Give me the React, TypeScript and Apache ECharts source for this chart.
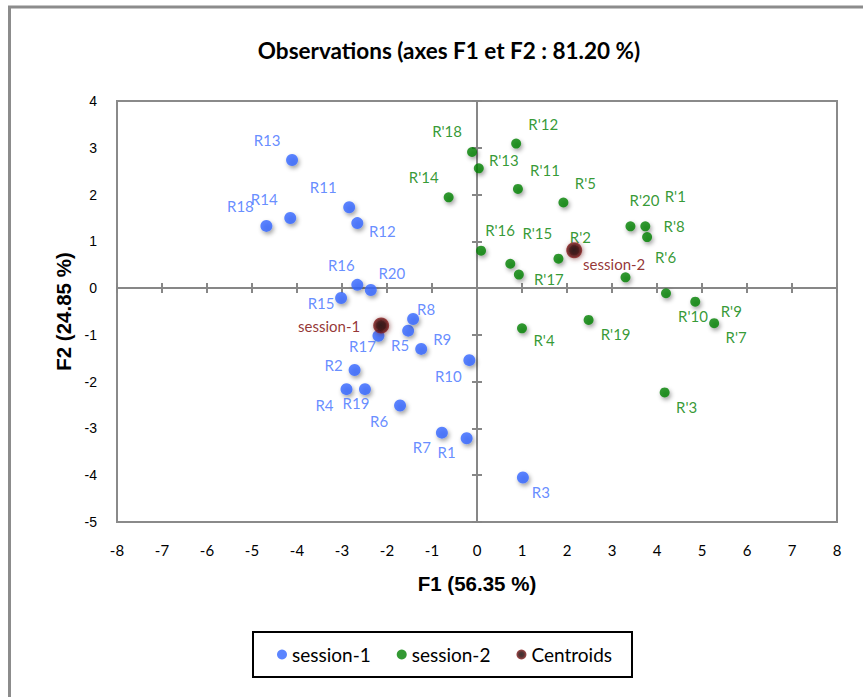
import React, { useEffect, useRef } from 'react';
import * as echarts from 'echarts';

// ---- data ----
const s1Names = ['R1','R2','R3','R4','R5','R6','R7','R8','R9','R10','R11','R12','R13','R14','R15','R16','R17','R18','R19','R20'];
const s1X = [-0.23,-2.72,1.02,-2.90,-1.53,-1.71,-0.78,-1.42,-1.24,-0.17,-2.84,-2.66,-4.11,-4.15,-3.02,-2.66,-2.19,-4.68,-2.49,-2.36];
const s1Y = [-3.21,-1.75,-4.05,-2.16,-0.91,-2.51,-3.09,-0.66,-1.30,-1.54,1.73,1.39,2.74,1.50,-0.21,0.07,-1.02,1.33,-2.16,-0.04];

const s2Names = ["R'1","R'2","R'3","R'4","R'5","R'6","R'7","R'8","R'9","R'10","R'11","R'12","R'13","R'14","R'15","R'16","R'17","R'18","R'19","R'20"];
const s2X = [3.74,1.81,4.17,1.00,1.92,3.30,5.27,3.78,4.85,4.20,0.91,0.87,0.04,-0.63,0.74,0.09,0.93,-0.11,2.48,3.41];
const s2Y = [1.32,0.63,-2.23,-0.86,1.83,0.23,-0.75,1.09,-0.29,-0.11,2.12,3.09,2.56,1.94,0.52,0.80,0.29,2.91,-0.68,1.32];

const centroidNames = ['session-1','session-2'];
const centroidX = [-2.13, 2.16];
const centroidY = [-0.80, 0.81];

const xTicks = { min: -8, max: 8, step: 1 };
const yTicks = { min: -5, max: 4, step: 1 };

// ---- label placement (pixel shifts, styling only) ----
const s1Shift = [[-20,14],[-21,-5],[18,14],[-22,16],[-8,14],[-21,15],[-20,14],[13,-10],[21,-10],[-21,16],[-26,-20],[25,8],[-25,-20],[-26,-19],[-20,5],[-16,-20],[-16,10],[-26,-20],[-9,14],[21,-17]];
const s2Shift = [[30,-30],[22,-22],[22,15],[22,12],[22,-20],[40,-20],[22,14],[27,-11],[36,9],[27,23],[27,-19],[27,-20],[25,-8],[-25,-20],[27,-31],[19,-21],[30,4],[-25,-21],[27,14],[14,-26]];
const cShift = [[-52,0],[40,14]];

const AXIS_GRAY = '#878787';
const BLUE = '#3366ff';
const GREEN = '#008000';
const DARKRED = '#7a0000';

function build(names: string[], xs: number[], ys: number[], shifts: number[][]) {
  return names.map((n, i) => ({
    name: n,
    value: [xs[i], ys[i]],
    label: { offset: shifts[i] },
  }));
}

export default function App() {
  const ref = useRef<HTMLDivElement>(null);
  useEffect(() => {
    const chart = echarts.init(ref.current!, null, { renderer: 'svg' });
    const xBase = { type: 'value', min: xTicks.min, max: xTicks.max, interval: xTicks.step, splitLine: { show: false } };
    const yBase = { type: 'value', min: yTicks.min, max: yTicks.max, interval: yTicks.step, splitLine: { show: false } };
    const lineStyle = { color: AXIS_GRAY, width: 2 };
    const shadow = { shadowBlur: 4, shadowColor: 'rgba(0,0,0,0.45)', shadowOffsetX: 1.5, shadowOffsetY: 2.5 };
    const centroidColor = new echarts.graphic.RadialGradient(0.5, 0.5, 0.5, [
      { offset: 0, color: '#0d0000' },
      { offset: 0.5, color: '#2a0000' },
      { offset: 1, color: '#8b1c1c' },
    ]);
    const option: any = {
      animation: false,
      backgroundColor: '#fff',
      title: {
        text: 'Observations (axes F1 et F2 : 81.20 %)',
        left: 444,
        textAlign: 'center',
        top: 34,
        textStyle: { fontFamily: 'Lato', fontWeight: 'bold', fontSize: 22.5, color: '#000' },
      },
      graphic: [
        { type: 'rect', shape: { x: 9.5, y: 7, width: 900, height: 720 }, style: { fill: 'none', stroke: '#8c8c8c', lineWidth: 3 }, silent: true },
      ],
      legend: {
        left: 253,
        top: 632,
        orient: 'horizontal',
        padding: [13, 20, 13, 24],
        itemGap: 26,
        itemWidth: 10,
        itemHeight: 10,
        borderColor: '#000',
        borderWidth: 2,
        icon: 'circle',
        textStyle: { fontFamily: 'Lato', fontSize: 19, color: '#000' },
        data: [
          { name: 'session-1' },
          { name: 'session-2' },
          { name: 'Centroids', itemStyle: { color: centroidColor } },
        ],
      },
      grid: { left: 117, top: 101, width: 720, height: 421, show: true, borderColor: '#8a8a8a', borderWidth: 2 },
      xAxis: [
        {
          ...xBase, position: 'bottom',
          axisLine: { show: false, onZero: false }, axisTick: { show: false },
          axisLabel: { margin: 20, fontFamily: 'Lato', fontSize: 15, color: '#000' },
          name: 'F1 (56.35 %)', nameLocation: 'middle', nameGap: 51,
          nameTextStyle: { fontFamily: 'Liberation Sans', fontWeight: 'bold', fontSize: 20.5, color: '#000' },
        },
        {
          ...xBase, position: 'bottom',
          axisLine: { show: true, onZero: true, onZeroAxisIndex: 0, lineStyle },
          axisTick: { show: true, length: 5, lineStyle }, axisLabel: { show: false },
        },
        {
          ...xBase, position: 'bottom',
          axisLine: { show: true, onZero: true, onZeroAxisIndex: 0, lineStyle },
          axisTick: { show: true, inside: true, length: 5, lineStyle }, axisLabel: { show: false },
        },
      ],
      yAxis: [
        {
          ...yBase, position: 'left',
          axisLine: { show: false, onZero: false }, axisTick: { show: false },
          axisLabel: { margin: 20, fontFamily: 'Liberation Sans', fontSize: 14, color: '#000' },
          name: 'F2 (24.85 %)', nameLocation: 'middle', nameGap: 41,
          nameTextStyle: { fontFamily: 'Liberation Sans', fontWeight: 'bold', fontSize: 20.5, color: '#000' },
        },
        {
          ...yBase, position: 'left',
          axisLine: { show: true, onZero: true, onZeroAxisIndex: 0, lineStyle },
          axisTick: { show: true, length: 5, lineStyle }, axisLabel: { show: false },
        },
        {
          ...yBase, position: 'left',
          axisLine: { show: true, onZero: true, onZeroAxisIndex: 0, lineStyle },
          axisTick: { show: true, inside: true, length: 5, lineStyle }, axisLabel: { show: false },
        },
      ],
      series: [
        {
          name: 'session-1', type: 'scatter', xAxisIndex: 0, yAxisIndex: 0,
          symbolSize: 12,
          itemStyle: { color: BLUE, ...shadow },
          label: { show: true, position: 'inside', formatter: '{b}', color: '#3f70ff', fontFamily: 'Lato', fontSize: 15 },
          data: build(s1Names, s1X, s1Y, s1Shift),
        },
        {
          name: 'session-2', type: 'scatter', xAxisIndex: 0, yAxisIndex: 0,
          symbolSize: 10,
          itemStyle: { color: GREEN, ...shadow },
          label: { show: true, position: 'inside', formatter: '{b}', color: GREEN, fontFamily: 'Lato', fontSize: 15 },
          data: build(s2Names, s2X, s2Y, s2Shift),
        },
        {
          name: 'Centroids', type: 'scatter', xAxisIndex: 0, yAxisIndex: 0,
          symbolSize: 16,
          itemStyle: { color: centroidColor, shadowBlur: 5, shadowColor: 'rgba(80,0,0,0.6)', shadowOffsetX: 1, shadowOffsetY: 1 },
          label: { show: true, position: 'inside', formatter: '{b}', color: DARKRED, fontFamily: 'Lato', fontSize: 15 },
          data: build(centroidNames, centroidX, centroidY, cShift),
          z: 3,
        },
      ],
    };
    chart.setOption(option);
    return () => chart.dispose();
  }, []);
  return <div ref={ref} style={{ position: 'absolute', left: 0, top: 0, width: 863, height: 697 }} />;
}
